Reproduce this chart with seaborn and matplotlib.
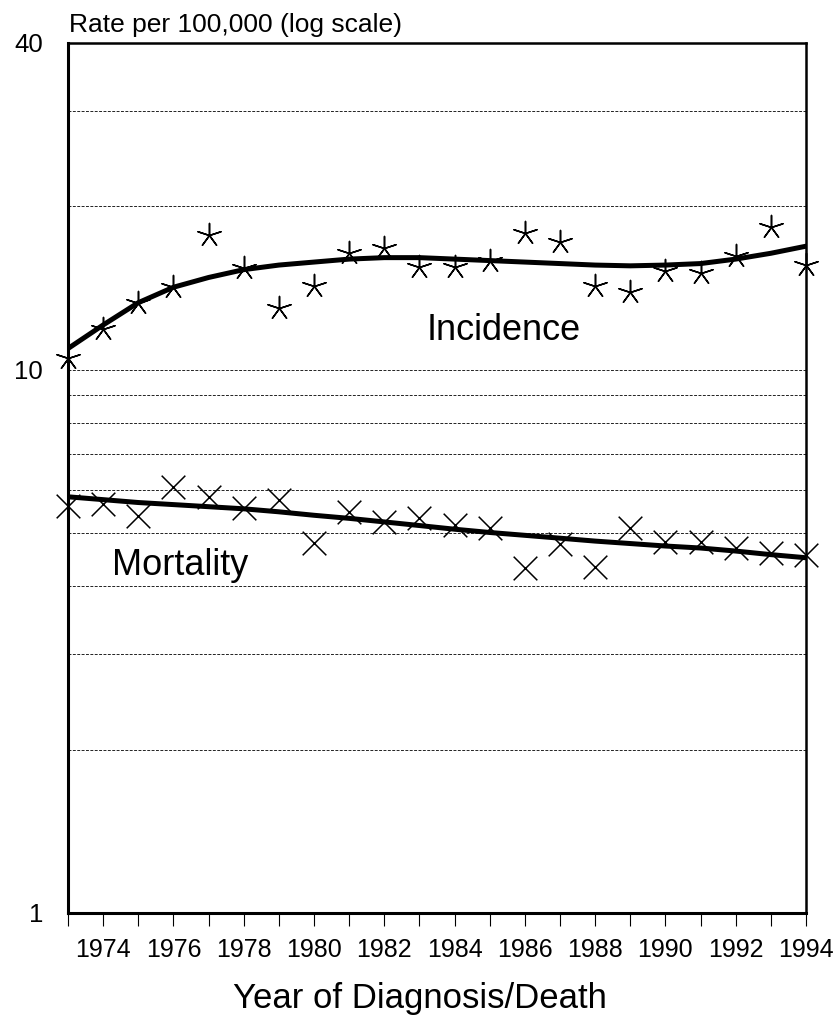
import matplotlib
matplotlib.use("Agg")
import matplotlib.pyplot as plt
import seaborn as sns
import pandas as pd
import numpy as np

# years of diagnosis / death
years = list(range(1973, 1995))

incidence_obs = [10.5, 11.9, 13.3, 14.2, 17.7, 15.4, 13.0, 14.3, 16.4, 16.8, 15.5,
                 15.5, 15.9, 17.9, 17.2, 14.3, 13.9, 15.2, 15.1, 16.2, 18.3, 15.6]
mortality_obs = [5.62, 5.67, 5.38, 6.09, 5.84, 5.57, 5.76, 4.80, 5.47, 5.25, 5.34,
                 5.18, 5.12, 4.32, 4.78, 4.34, 5.12, 4.82, 4.82, 4.70, 4.60, 4.56]

# fitted trend lines
incidence_fit = [10.95, 12.1, 13.3, 14.2, 14.8, 15.3, 15.6, 15.8, 16.0, 16.1, 16.1,
                 16.0, 15.9, 15.8, 15.7, 15.6, 15.55, 15.6, 15.7, 16.0, 16.4, 16.9]
mortality_fit = [5.84, 5.77, 5.70, 5.65, 5.60, 5.55, 5.48, 5.40, 5.33, 5.25, 5.17,
                 5.09, 5.02, 4.96, 4.90, 4.84, 4.79, 4.74, 4.70, 4.64, 4.57, 4.51]

y_major = [1, 10, 40]
y_grid = [2, 3, 4, 5, 6, 7, 8, 9, 20, 30]
x_labels = [str(y) if y % 2 == 0 else "" for y in years]

df = pd.DataFrame({"year": years,
                   "inc": incidence_obs, "inc_fit": incidence_fit,
                   "mort": mortality_obs, "mort_fit": mortality_fit})

sns.set_theme(style="white")
plt.rcParams["font.family"] = ["Liberation Sans", "DejaVu Sans"]

fig = plt.figure(figsize=(8.38, 10.26), dpi=100)
ax = fig.add_axes([68 / 838, 1 - 913 / 1026, (806 - 68) / 838, (913 - 43) / 1026])

sns.lineplot(data=df, x="year", y="inc_fit", color="black", linewidth=3.6, ax=ax, zorder=3)
sns.lineplot(data=df, x="year", y="mort_fit", color="black", linewidth=3.6, ax=ax, zorder=3)
sns.scatterplot(data=df, x="year", y="inc", marker=(5, 2, 0), s=300, color="black",
                linewidth=1.1, ax=ax, zorder=4, clip_on=False)
sns.scatterplot(data=df, x="year", y="mort", marker="x", s=290, color="black",
                linewidth=1.1, ax=ax, zorder=4, clip_on=False)

ax.set_yscale("log")
ax.set_ylim(1, 40)
ax.set_xlim(1973, 1994)

ax.set_yticks(y_major)
ax.set_yticklabels([str(v) for v in y_major])
ax.set_yticks(y_grid, minor=True)
ax.yaxis.set_minor_formatter(matplotlib.ticker.NullFormatter())
ax.grid(False)
for v in y_major + y_grid:
    ax.axhline(v, color="#222222", linewidth=0.7, linestyle=(0, (3, 1.5)), zorder=1)

ax.set_xticks(years)
ax.set_xticklabels(x_labels)
ax.tick_params(axis="x", which="major", bottom=True, direction="out", length=9,
               width=0.8, color="black", pad=9, labelsize=18, labelcolor="black")
ax.tick_params(axis="y", which="both", left=False, length=0, pad=18,
               labelsize=18.5, labelcolor="black")
ax.set_xlabel("")
ax.set_ylabel("")

for side in ["left", "bottom"]:
    ax.spines[side].set_linewidth(2.2)
    ax.spines[side].set_color("black")
for side in ["top", "right"]:
    ax.spines[side].set_linewidth(1.8)
    ax.spines[side].set_color("black")

ax.text(1983.2, 11.36, "Incidence", fontsize=26, ha="left", va="baseline", color="black")
ax.text(1974.25, 4.19, "Mortality", fontsize=26, ha="left", va="baseline", color="black")

fig.text(69 / 838, 1 - 32 / 1026, "Rate per 100,000 (log scale)", fontsize=19,
         ha="left", va="baseline", color="black")
fig.text(420 / 838, 1 - 1008 / 1026, "Year of Diagnosis/Death", fontsize=25,
         ha="center", va="baseline", color="black")

fig.savefig("out.png", dpi=100)
